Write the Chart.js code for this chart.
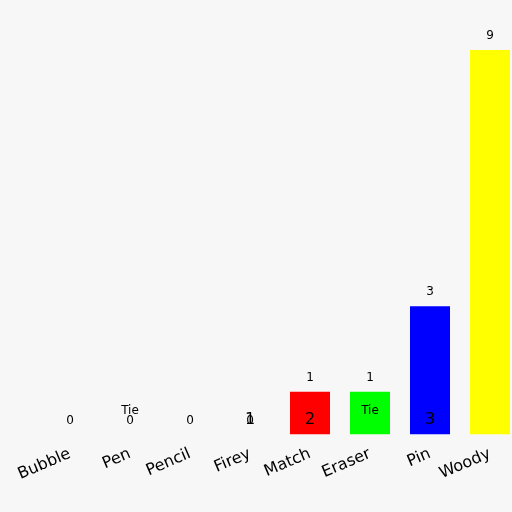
<!DOCTYPE html>
<html>
<head>
<script src="https://cdn.jsdelivr.net/npm/chart.js@4"></script>
<style>
html,body{margin:0;padding:0;background:#f7f7f7;overflow:hidden;width:512px;height:512px}
#wrap{width:560px;height:512px}
</style>
</head>
<body>
<div id="wrap"><canvas id="c" width="560" height="512"></canvas></div>
<script>
const names = ['Bubble','Pen','Pencil','Firey','Match','Eraser','Pin','Woody'];
const votes = [0,0,0,0,1,1,3,9];
const ranks = ['','Tie','','1','2','Tie','3',''];
const colors = ['#808080','#808080','#808080','#808080','#ff0000','#00ff00','#0000ff','#ffff00'];

const labelPlugin = {
  id: 'labels',
  afterDatasetsDraw(chart) {
    const ctx = chart.ctx;
    const meta = chart.getDatasetMeta(0);
    const bottom = chart.scales.y.getPixelForValue(0);
    ctx.save();
    ctx.textAlign = 'center';
    ctx.textBaseline = 'middle';
    meta.data.forEach(function (bar, i) {
      ctx.fillStyle = '#000';
      ctx.font = '12px "DejaVu Sans"';
      ctx.fillText(String(votes[i]), bar.x, bar.y - 14);
      if (ranks[i] === 'Tie') {
        ctx.font = '12px "DejaVu Sans"';
        ctx.fillText('Tie', bar.x, bottom - 24);
      } else if (ranks[i] !== '') {
        ctx.font = '16px "DejaVu Sans"';
        ctx.fillText(ranks[i], bar.x, bottom - 15);
      }
    });
    ctx.restore();
  }
};

new Chart(document.getElementById('c'), {
  type: 'bar',
  data: {
    labels: names,
    datasets: [{ data: votes, backgroundColor: colors, categoryPercentage: 1, barPercentage: 0.667 }]
  },
  options: {
    responsive: false,
    animation: false,
    layout: { padding: { left: 40, right: 40, top: 50, bottom: 26 } },
    plugins: { legend: { display: false }, tooltip: { enabled: false } },
    scales: {
      x: {
        grid: { display: false },
        border: { display: false },
        ticks: { color: '#000', font: { size: 16, family: 'DejaVu Sans' }, padding: 2 }
      },
      y: { display: false, min: 0, max: 9 }
    }
  },
  plugins: [labelPlugin]
});
</script>
</body>
</html>
